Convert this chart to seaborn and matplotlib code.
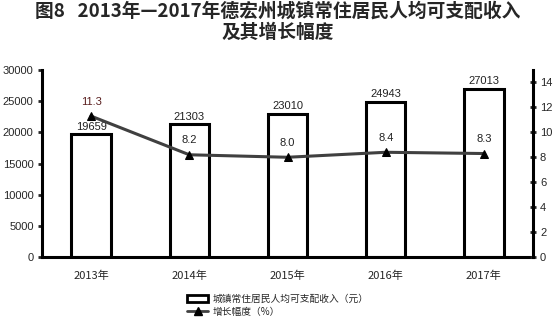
import matplotlib
matplotlib.use("Agg")
import matplotlib.pyplot as plt
import seaborn as sns
import pandas as pd
from matplotlib.lines import Line2D
from matplotlib.patches import Patch

years = ["2013年", "2014年", "2015年", "2016年", "2017年"]
income = [19659, 21303, 23010, 24943, 27013]
growth = [11.3, 8.2, 8.0, 8.4, 8.3]
income_label = "城镇常住居民人均可支配收入（元）"
growth_label = "增长幅度（%）"
title = "图8   2013年—2017年德宏州城镇常住居民人均可支配收入\n及其增长幅度"

sns.set_theme(style="white")
plt.rcParams['font.family'] = ['Noto Sans CJK SC', 'DejaVu Sans']
plt.rcParams['axes.unicode_minus'] = False

df = pd.DataFrame({"year": years, "income": income, "growth": growth})

fig = plt.figure(figsize=(5.55, 3.18), dpi=100)
ax = fig.add_axes([42/555, 1-257/318, (533-42)/555, (257-70)/318])

sns.barplot(data=df, x="year", y="income", ax=ax, color="white",
            edgecolor="black", linewidth=2.2, width=0.4, saturation=1)
ax.set_xlim(-0.5, 4.5)
ax.set_ylim(0, 30000)
ax.set_yticks(range(0, 30001, 5000))
ax.set_xlabel("")
ax.set_ylabel("")
for i, v in enumerate(income):
    ax.text(i, v + 380, str(v), ha="center", va="bottom", fontsize=8,
            family="Liberation Sans", color="#222222")

ax2 = ax.twinx()
sns.lineplot(data=df, x="year", y="growth", ax=ax2, color="#404040",
             linewidth=2.2, marker="^", markersize=6, markerfacecolor="black",
             markeredgecolor="black", sort=False)
ax2.set_ylim(0, 15)
ax2.set_yticks(range(0, 15, 2))
ax2.set_ylabel("")
ax2.set_xlim(-0.5, 4.5)
for i, v in enumerate(growth):
    ax2.text(i, v + 0.75, f"{v:.1f}", ha="center", va="bottom", fontsize=8,
             family="Liberation Sans", color="#5a1f1f" if i == 0 else "#222222")

for a in (ax, ax2):
    for s in a.spines.values():
        s.set_visible(False)
ax.spines["left"].set_visible(True)
ax.spines["bottom"].set_visible(True)
ax2.spines["right"].set_visible(True)
for s in (ax.spines["left"], ax.spines["bottom"], ax2.spines["right"]):
    s.set_linewidth(2.2)
    s.set_color("black")

ax.tick_params(axis="y", left=True, length=3, width=2, direction="out",
               labelsize=8, pad=3)
ax.tick_params(axis="x", bottom=False, labelsize=8, pad=4)
ax2.tick_params(axis="y", right=True, length=4, width=2, direction="inout",
                labelsize=8, pad=3)
for lab in ax.get_yticklabels() + ax2.get_yticklabels():
    lab.set_family("Liberation Sans")

fig.text(0.5, 0.995, title, ha="center", va="top", fontsize=13.5,
         fontweight="bold", linespacing=1.15)

handles = [Patch(facecolor="white", edgecolor="black", linewidth=2),
           Line2D([0], [0], color="#404040", lw=2, marker="^", markersize=6,
                  markerfacecolor="black", markeredgecolor="black")]
fig.legend(handles, [income_label, growth_label], loc="center",
           bbox_to_anchor=(0.5, 0.04), frameon=False, fontsize=7,
           handlelength=2.2, handleheight=0.8, labelspacing=0.3,
           handletextpad=0.4, borderaxespad=0)

fig.savefig("out.png", dpi=100)
